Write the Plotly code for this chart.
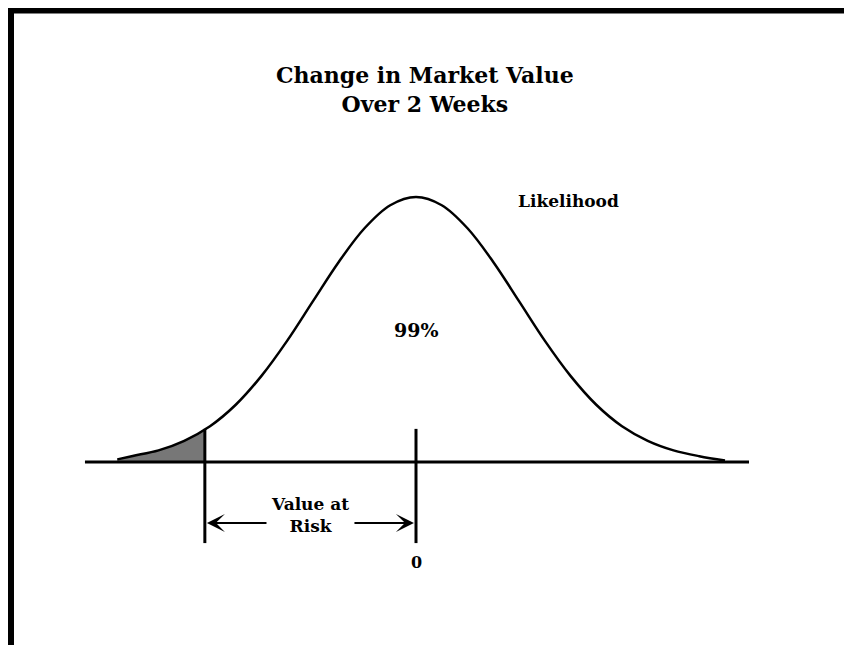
import plotly.graph_objects as go

# ---- data ----
z_values = [-2.9, -2.75, -2.5, -2.25, -2.0, -1.75, -1.5, -1.25, -1.0, -0.75, -0.5, -0.25, 0.0,
            0.25, 0.5, 0.75, 1.0, 1.25, 1.5, 1.75, 2.0, 2.25, 2.5, 2.75, 3.0]
likelihood = [0.010, 0.023, 0.044, 0.080, 0.135, 0.216, 0.325, 0.458, 0.607, 0.755, 0.882, 0.969, 1.0,
              0.969, 0.882, 0.755, 0.607, 0.458, 0.325, 0.216, 0.135, 0.080, 0.044, 0.022, 0.006]
tail_z = [-2.9, -2.75, -2.5, -2.25, -2.05]
tail_likelihood = [0.010, 0.023, 0.044, 0.080, 0.122]
var_cutoff = -2.05
zero_value = 0.0
axis_extent = [-3.214, 3.233]

title_text = "Change in Market Value<br>Over 2 Weeks"
confidence_label = "99%"
curve_label = "Likelihood"
var_label = "Value at<br>Risk"
zero_label = "0"

SERIF = "DejaVu Serif, Liberation Serif, serif"

# page has an 8px body margin
OFF = 8
W, H = 852 - OFF, 645 - OFF
CX, SX = 416, 103      # pixel of zero, pixels per unit (x)
CY, SY = 462, 265      # pixel of baseline, pixels per unit (y)

fig = go.Figure()

# shaded tail
fig.add_trace(go.Scatter(x=tail_z, y=tail_likelihood, mode="lines", fill="tozeroy",
                         fillcolor="#777777", line=dict(color="rgba(0,0,0,0)", width=0,
                         shape="spline"), hoverinfo="skip", showlegend=False))
# curve
fig.add_trace(go.Scatter(x=z_values, y=likelihood, mode="lines",
                         line=dict(color="black", width=2.5, shape="spline"),
                         hoverinfo="skip", showlegend=False))
# baseline
fig.add_trace(go.Scatter(x=axis_extent, y=[0, 0], mode="lines",
                         line=dict(color="black", width=3), hoverinfo="skip", showlegend=False))
# vertical markers
tick_top, tick_bottom = 0.125, -0.306
for xv in [var_cutoff, zero_value]:
    fig.add_trace(go.Scatter(x=[xv, xv], y=[tick_top, tick_bottom], mode="lines",
                             line=dict(color="black", width=3), hoverinfo="skip", showlegend=False))

# arrows
arrow_y = -0.230
for tip, tail in [(-2.03, -1.437), (-0.02, -0.612)]:
    fig.add_annotation(x=tip, y=arrow_y, ax=tail, ay=arrow_y, axref="x", ayref="y",
                       xref="x", yref="y", text="", showarrow=True, arrowhead=3,
                       arrowsize=1.5, arrowwidth=2, arrowcolor="black")

def txt(text, x, y, size, xref="x", yref="y"):
    fig.add_annotation(x=x, y=y, xref=xref, yref=yref, text="<b>" + text + "</b>",
                       showarrow=False, font=dict(family=SERIF, size=size, color="black"),
                       xanchor="center", yanchor="middle")

def px(p):
    return (p - OFF) / W

def py(p):
    return 1 - (p - OFF) / H

txt(title_text, px(425), py(90), 22, "paper", "paper")
txt(curve_label, px(568), py(201), 17, "paper", "paper")
txt(confidence_label, zero_value, (CY - 330) / SY, 19)
txt(var_label, (310 - CX) / SX, (CY - 515) / SY, 17)
txt(zero_label, zero_value, (CY - 562) / SY, 16)

# frame (top and left border)
fig.add_shape(type="path", xref="paper", yref="paper",
              path=f"M {px(10.5)},-0.02 L {px(10.5)},{py(10)} L 1.01,{py(10)}",
              line=dict(color="black", width=7))

fig.update_layout(
    width=W, height=H, margin=dict(l=0, r=0, t=0, b=0),
    paper_bgcolor="white", plot_bgcolor="white",
    xaxis=dict(range=[(OFF - CX) / SX, (852 - CX) / SX], visible=False, fixedrange=True),
    yaxis=dict(range=[(CY - 645) / SY, (CY - OFF) / SY], visible=False, fixedrange=True),
    showlegend=False,
)

fig.write_html("out.html")
